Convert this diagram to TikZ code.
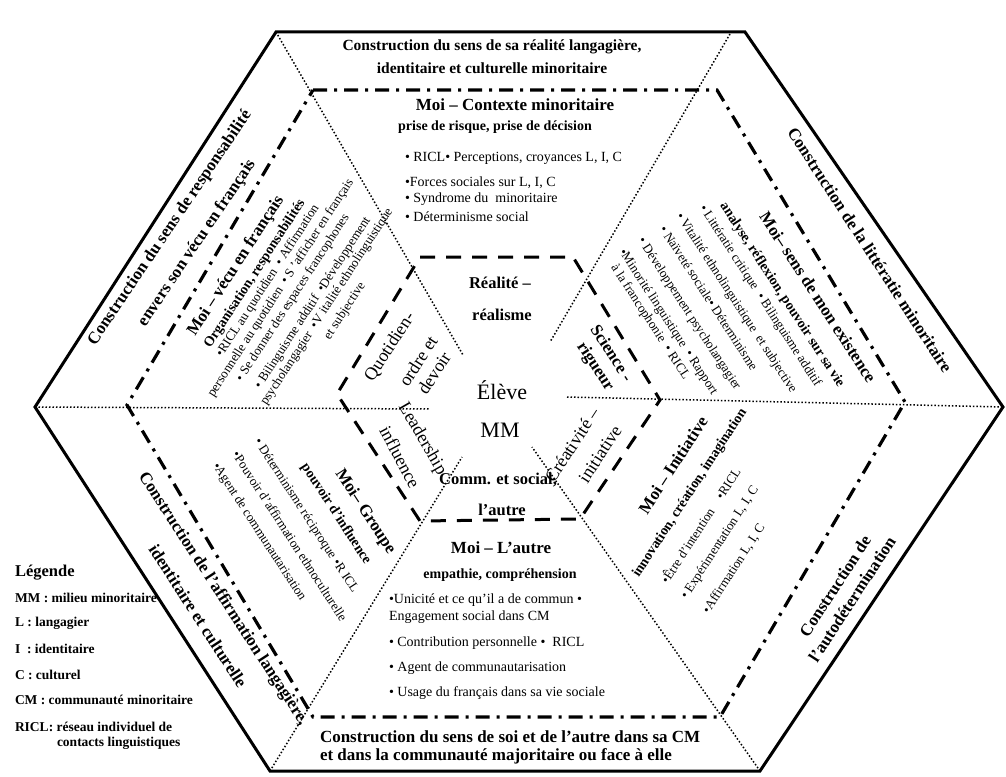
\documentclass[tikz,border=0pt]{standalone}
\usepackage{fontspec}
\setmainfont{Liberation Serif}
\begin{document}
\begin{tikzpicture}[x=1pt,y=-1pt,
  every node/.style={inner sep=0pt, outer sep=0pt},
  big/.style={font=\bfseries\fontsize{17}{20}\selectfont},
  topt/.style={font=\bfseries\fontsize{15.5}{18}\selectfont},
  sub/.style={font=\bfseries\fontsize{14}{16}\selectfont},
  bul/.style={font=\fontsize{13}{15}\selectfont},
  bulb/.style={font=\fontsize{14}{16}\selectfont, anchor=west},
  leg/.style={font=\bfseries\fontsize{13.5}{16}\selectfont, anchor=west},
  inreg/.style={font=\fontsize{18}{20}\selectfont},
  inbold/.style={font=\bfseries\fontsize{16.5}{19}\selectfont},
  ru/.style={rotate=57}, rd/.style={rotate=-57},
  outerline/.style={line width=3pt, line join=miter},
  dashdotline/.style={line width=3.2pt, dash pattern=on 14pt off 7pt on 3pt off 7pt},
  dashline/.style={line width=3pt, dash pattern=on 15pt off 11pt},
  dotline/.style={line width=1.5pt, dash pattern=on 1.5pt off 2pt}]
\useasboundingbox (0,0) rectangle (1006,776);
% vertices
\coordinate (oTL) at (276,32); \coordinate (oTR) at (745,32); \coordinate (oR) at (1003,407);
\coordinate (oBR) at (760,771); \coordinate (oBL) at (270,771); \coordinate (oL) at (35,407);
\coordinate (mTL) at (313,90); \coordinate (mTR) at (717,90); \coordinate (mR) at (905,402);
\coordinate (mBR) at (720,717); \coordinate (mBL) at (313,717); \coordinate (mL) at (127,405);
\coordinate (iTL) at (420,257); \coordinate (iTR) at (573,257); \coordinate (iR) at (660,400);
\coordinate (iBR) at (580,519); \coordinate (iBL) at (420,521); \coordinate (iL) at (337,394);
\coordinate (eTL) at (463,355); \coordinate (eTR) at (550,342); \coordinate (eL) at (430,409);
\coordinate (eR) at (567,397); \coordinate (eBL) at (462,457); \coordinate (eBR) at (532,447);
\coordinate (dTR) at (730,34);
% dotted spokes
\draw[dotline] (oTL) -- (eTL);
\draw[dotline] (dTR) -- (eTR);
\draw[dotline] (oL) -- (eL);
\draw[dotline] (eR) -- (oR);
\draw[dotline] (oBL) -- (eBL);
\draw[dotline] (oBR) -- (eBR);
% hexagons
\draw[outerline] (oTL) -- (oTR) -- (oR) -- (oBR) -- (oBL) -- (oL) -- cycle;
\draw[dashdotline] (mTL) -- (mTR) -- (mR) -- (mBR) -- (mBL) -- (mL) -- cycle;
\draw[dashline] (iTL) -- (iTR) -- (iR) -- (iBR) -- (iBL) -- (iL) -- cycle;
% top
\node[topt] (tT1) at (492,47) {Construction du sens de sa réalité langagière,};
\node[topt] (tT2) at (492,68) {identitaire et culturelle minoritaire};
\node[big] (tM) at (515,105) {Moi – Contexte minoritaire};
\node[sub] (tS) at (495,127) {prise de risque, prise de décision};
\node[bulb] (tB1) at (405,158) {• RICL• Perceptions, croyances L, I, C};
\node[bulb] (tB2) at (405,183) {•Forces sociales sur L, I, C};
\node[bulb] (tB3) at (405,199) {• Syndrome du\ \ minoritaire};
\node[bulb] (tB4) at (405,217) {• Déterminisme social};
% upper left
\node[big,rotate=56] (ulT1) at (170,228) {Construction du sens de responsabilité};
\node[big,rotate=56] (ulT2) at (197,243) {envers son vécu en français};
\node[big,ru] (ulM) at (236,266) {Moi – vécu en français};
\node[sub,ru] (ulS) at (255,274) {Organisation, responsabilités};
\node[bul,ru] (ulB1) at (268,281) {•RICL au quotidien\ \ • Affirmation};
\node[bul,ru] (ulB2) at (281,288) {personnelle au quotidien\ \ • S ’afficher en français};
\node[bul,ru] (ulB3) at (293,298) {• Se donner des espaces francophones};
\node[bul,ru] (ulB4) at (313,303) {• Bilinguisme additif\ \ •Développement};
\node[bul,ru] (ulB5) at (327,307) {psycholangagier\ \ •V italité ethnolinguistique};
\node[bul,ru] (ulB6) at (345,311) {et subjective};
% upper right
\node[big,rd] (urT) at (870,250) {Construction de la littératie minoritaire};
\node[big,rd] (urM) at (818,297) {Moi– sens de mon existence};
\node[sub,rd] (urS) at (782,295) {analyse, réflexion, pouvoir sur sa vie};
\node[bul,rd] (urB1) at (760,296) {• Littératie critique\ \ • Bilinguisme additif};
\node[bul,rd] (urB2) at (736,303) {• Vitalité ethnolinguistique\ \ et subjective};
\node[bul,rd] (urB3) at (709,298) {• Naïveté sociale• Déterminisme};
\node[bul,rd] (urB4) at (689,314) {• Développement psycholangagier};
\node[bul,rd] (urB5) at (668,322) {•Minorité linguistique\ \ • Rapport};
\node[bul,rd] (urB6) at (650,322) {à la francophonie\ \ • RICL};
% lower left
\node[big,rd] (llT1) at (223,599) {Construction de l’affirmation langagière,};
\node[big,rd] (llT2) at (198,616) {identitaire et culturelle};
\node[big,rd] (llM) at (365,512) {Moi– Groupe};
\node[sub,rd] (llS) at (336,514) {pouvoir d’influence};
\node[bul,rd] (llB1) at (306,516) {• Déterminisme réciproque •R ICL};
\node[bul,rd] (llB2) at (290,536) {•Pouvoir d’affirmation ethnoculturelle};
\node[bul,rd] (llB3) at (259,532) {•Agent de communautarisation};
% lower right
\node[big,ru] (lrT1) at (835,586) {Construction de};
\node[big,ru] (lrT2) at (852,599) {l’autodétermination};
\node[big,ru] (lrM) at (673,465) {Moi – Initiative};
\node[sub,ru] (lrS) at (690,493) {innovation, création, imagination};
\node[bul,ru] (lrB1) at (700,525) {•Être d’intention\hspace{14pt}•RICL};
\node[bul,ru] (lrB2) at (720,543) {• Expérimentation L, I, C};
\node[bul,ru] (lrB3) at (734,569) {•Affirmation L, I, C};
% bottom
\node[big] (bM) at (501,548) {Moi – L’autre};
\node[sub] (bS) at (500,575) {empathie, compréhension};
\node[bulb] (bB1) at (389,600) {•Unicité et ce qu’il a de commun •};
\node[bulb] (bB2) at (389,617) {Engagement social dans CM};
\node[bulb] (bB3) at (389,643) {• Contribution personnelle •\ \ RICL};
\node[bulb] (bB4) at (389,668) {• Agent de communautarisation};
\node[bulb] (bB5) at (389,693) {• Usage du français dans sa vie sociale};
\node[big,anchor=west] (bT1) at (320,737) {Construction du sens de soi et de l’autre dans sa CM};
\node[big,anchor=west] (bT2) at (320,756) {et dans la communauté majoritaire ou face à elle};
% inner
\node[inbold] (iR1) at (500,283) {Réalité –};
\node[inbold] (iR2) at (502,315) {réalisme};
\node[font=\fontsize{22}{24}\selectfont] (iE1) at (502,390) {Élève};
\node[font=\fontsize{22}{24}\selectfont] (iE2) at (500,430) {MM};
\node[inreg,ru] (iQ1) at (390,347) {Quotidien-};
\node[inreg,ru] (iQ2) at (418,361) {ordre et};
\node[inreg,ru] (iQ3) at (434,373) {devoir};
\node[big,rd] (iS1) at (612,353) {Science -};
\node[big,rd] (iS2) at (595,367) {rigueur};
\node[inreg,rotate=-60] (iL1) at (422,439) {Leadership};
\node[inreg,rotate=-62] (iL2) at (400,457) {influence};
\node[inreg,ru] (iC1) at (572,445) {Créativité –};
\node[inreg,ru] (iC2) at (600,454) {initiative};
\node[inbold] (iCo1) at (498,480) {Comm. et social,};
\node[inbold] (iCo2) at (502,510) {l’autre};
% legend
\node[leg,font=\bfseries\fontsize{16.5}{18}\selectfont] (lg0) at (15,573) {Légende};
\node[leg] (lg1) at (15,598) {MM : milieu minoritaire};
\node[leg] (lg2) at (15,623) {L : langagier};
\node[leg] (lg3) at (15,649) {I\ \ : identitaire};
\node[leg] (lg4) at (15,675) {C : culturel};
\node[leg] (lg5) at (15,700) {CM : communauté minoritaire};
\node[leg] (lg6) at (15,727) {RICL: réseau individuel de};
\node[leg] (lg7) at (57,743) {contacts linguistiques};
\end{tikzpicture}
\end{document}
